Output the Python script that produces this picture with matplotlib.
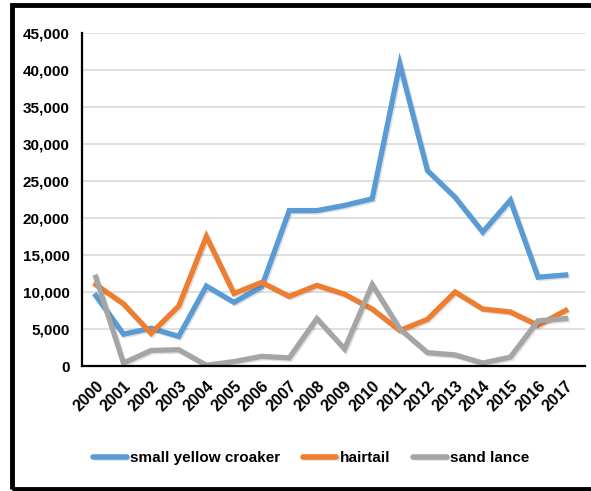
import matplotlib.pyplot as plt
import matplotlib.patheffects as pe
from matplotlib.patches import Rectangle

years = [str(y) for y in range(2000, 2018)]

small_yellow_croaker = [9500, 4300, 5100, 4000, 10800, 8600, 10700, 21000, 21000,
                        21700, 22600, 40800, 26400, 22800, 18100, 22400, 12000, 12300]
hairtail = [11000, 8400, 4400, 8100, 17500, 9800, 11300, 9400, 10900,
            9700, 7700, 4800, 6300, 10000, 7700, 7300, 5500, 7500]
sand_lance = [12000, 400, 2100, 2200, 100, 600, 1300, 1100, 6400,
              2300, 11000, 5000, 1800, 1500, 400, 1200, 6100, 6400]

series = [
    ("small yellow croaker", small_yellow_croaker, "#5B9BD5"),
    ("hairtail", hairtail, "#ED7D31"),
    ("sand lance", sand_lance, "#A5A5A5"),
]

plt.rcParams["font.family"] = ["Liberation Sans", "DejaVu Sans"]
plt.rcParams["font.weight"] = "bold"

fig = plt.figure(figsize=(5.91, 4.91), dpi=100)
W, H = 591, 491
ax = fig.add_axes([82 / W, 1 - 366 / H, (585 - 82) / W, (366 - 33) / H])

xs = list(range(len(years)))
# soft drop shadow like the office chart
shadow = [pe.SimpleLineShadow(offset=(1, -1), shadow_color="k", alpha=0.12), pe.Normal()]
for name, vals, color in series:
    ax.plot(xs, vals, color=color, lw=3.8, label=name,
            solid_joinstyle="miter", path_effects=shadow)

ax.set_ylim(0, 45000)
ax.set_xlim(-0.5, len(years) - 0.3)
ax.set_yticks(range(0, 45001, 5000))
ax.set_yticklabels([f"{v:,}" for v in range(0, 45001, 5000)], fontsize=11)
ax.set_xticks(xs)
ax.set_xticklabels(years, rotation=45, ha="right", rotation_mode="anchor", fontsize=11.5)
ax.tick_params(axis="y", length=0, pad=9)
ax.tick_params(axis="x", length=0, pad=9)
ax.grid(axis="y", color="#D9D9D9", lw=1.2)
ax.set_axisbelow(True)
for s in ["top", "right"]:
    ax.spines[s].set_visible(False)
for s in ["left", "bottom"]:
    ax.spines[s].set_linewidth(1.6)
    ax.spines[s].set_color("black")

leg = fig.legend(loc="center", bbox_to_anchor=(311 / W, 1 - 458 / H), ncol=3,
                 frameon=False, fontsize=11, handlelength=2.2, columnspacing=1.5,
                 handletextpad=0.2)
for line in leg.get_lines():
    line.set_linewidth(4)
    line.set_solid_capstyle("round")

fig.patches.append(Rectangle((11.5 / W, 1 - 489 / H), 1, (489 - 5) / H,
                             transform=fig.transFigure, fill=False,
                             edgecolor="black", lw=3.5))

fig.savefig("out.png", dpi=100)
